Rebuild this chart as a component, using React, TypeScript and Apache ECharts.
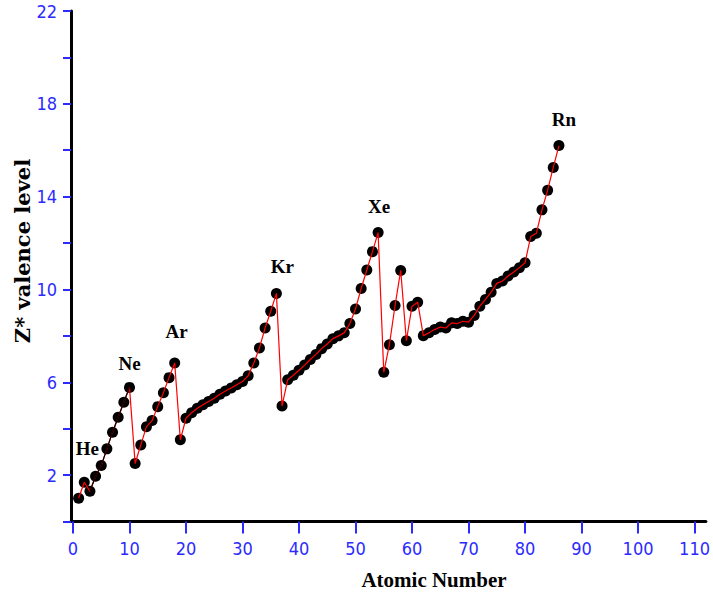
import React, { useEffect, useRef } from "react";
import * as echarts from "echarts";

const atomicNumbers = [
  1, 2, 3, 4, 5, 6, 7, 8, 9, 10,
  11, 12, 13, 14, 15, 16, 17, 18, 19, 20,
  21, 22, 23, 24, 25, 26, 27, 28, 29, 30,
  31, 32, 33, 34, 35, 36, 37, 38, 39, 40,
  41, 42, 43, 44, 45, 46, 47, 48, 49, 50,
  51, 52, 53, 54, 55, 56, 57, 58, 59, 60,
  61, 62, 63, 64, 65, 66, 67, 68, 69, 70,
  71, 72, 73, 74, 75, 76, 77, 78, 79, 80,
  81, 82, 83, 84, 85, 86,
];

const zEffective = [
  1.0, 1.69, 1.3, 1.95, 2.41, 3.13, 3.85, 4.49, 5.14, 5.78,
  2.5, 3.3, 4.08, 4.35, 4.95, 5.55, 6.2, 6.83, 3.52, 4.45,
  4.69, 4.88, 5.03, 5.17, 5.31, 5.48, 5.62, 5.75, 5.89, 6.03,
  6.28, 6.83, 7.48, 8.34, 9.06, 9.83, 4.98, 6.11, 6.3, 6.52,
  6.74, 6.98, 7.2, 7.45, 7.65, 7.88, 8.0, 8.13, 8.53, 9.16,
  10.04, 10.84, 11.63, 12.45, 6.43, 7.62, 9.31, 10.82, 7.79, 9.28,
  9.45, 8.01, 8.13, 8.27, 8.38, 8.34, 8.56, 8.53, 8.63, 8.59,
  8.88, 9.28, 9.57, 9.88, 10.26, 10.36, 10.58, 10.75, 10.94, 11.15,
  12.28, 12.42, 13.43, 14.28, 15.26, 16.2,
];

const nobleGasNames = ["He", "Ne", "Ar", "Kr", "Xe", "Rn"];
const nobleGasNumbers = [2, 10, 18, 36, 54, 86];

const xTickValues = [0, 10, 20, 30, 40, 50, 60, 70, 80, 90, 100, 110];
const yTickValues = [0, 2, 4, 6, 8, 10, 12, 14, 16, 18, 20, 22];
const yLabelValues = [2, 6, 10, 14, 18, 22];

const xTitle = "Atomic Number";
const yTitle = "Z* valence level";

// label offsets (pixels) relative to the marker centre
const labelOffsets: Record<string, [number, number]> = {
  He: [3, -34],
  Ne: [0, -24],
  Ar: [2, -32],
  Kr: [6, -27],
  Xe: [1, -26],
  Rn: [5, -26],
};

const BLUE = "#2b2bff";
const SERIF = "'Liberation Serif', 'Times New Roman', serif";
const TICK_FONT = "'Liberation Sans Narrow', 'DejaVu Sans Condensed', 'Liberation Sans', sans-serif";

export default function App() {
  const ref = useRef<HTMLDivElement>(null);

  useEffect(() => {
    if (!ref.current) return;
    const chart = echarts.init(ref.current, undefined, { renderer: "svg" });

    const points = atomicNumbers.map((z, i) => {
      const idx = nobleGasNumbers.indexOf(z);
      if (idx >= 0) {
        const name = nobleGasNames[idx];
        return {
          value: [z, zEffective[i]],
          label: {
            show: true,
            position: "inside",
            offset: labelOffsets[name],
            formatter: name,
            color: "#000",
            opacity: 1,
            textBorderWidth: 0,
            fontFamily: SERIF,
            fontWeight: "bold",
            fontSize: 19,
          },
        };
      }
      return { value: [z, zEffective[i]] };
    });

    const linePts = atomicNumbers.map((z, i) => [z, zEffective[i]]);
    const blackStart = atomicNumbers.indexOf(3);
    const blackEnd = atomicNumbers.indexOf(10);
    const blackPts = linePts.slice(blackStart, blackEnd + 1);

    chart.setOption({
      animation: false,
      backgroundColor: "#ffffff",
      grid: { left: 71, right: 3, top: 11, bottom: 70.5, containLabel: false },
      xAxis: {
        type: "value",
        min: -0.35,
        max: 112,
        axisLine: { show: true, onZero: false, lineStyle: { color: "#000", width: 3 } },
        axisTick: {
          show: true,
          length: 12,
          customValues: xTickValues,
          lineStyle: { color: BLUE, width: 2 },
        },
        axisLabel: {
          customValues: xTickValues,
          color: BLUE,
          fontFamily: TICK_FONT,
          fontSize: 18,
          margin: 18,
        },
        splitLine: { show: false },
      },
      yAxis: {
        type: "value",
        min: 0,
        max: 22,
        axisLine: { show: true, onZero: false, lineStyle: { color: "#000", width: 3 } },
        axisTick: {
          show: true,
          length: 8,
          customValues: yTickValues,
          lineStyle: { color: BLUE, width: 2 },
        },
        axisLabel: {
          customValues: yLabelValues,
          color: BLUE,
          fontFamily: TICK_FONT,
          fontSize: 18,
          margin: 14,
        },
        splitLine: { show: false },
      },
      graphic: [
        {
          type: "text",
          x: 434,
          y: 580,
          style: {
            text: xTitle,
            textAlign: "center",
            textVerticalAlign: "middle",
            fontFamily: SERIF,
            fontWeight: "bold",
            fontSize: 21,
            fill: "#000",
          },
        },
        {
          type: "text",
          x: 22,
          y: 251,
          rotation: Math.PI / 2,
          style: {
            text: yTitle,
            textAlign: "center",
            textVerticalAlign: "middle",
            fontFamily: "'DejaVu Serif', serif",
            fontWeight: "bold",
            fontSize: 21,
            fill: "#000",
          },
        },
      ],
      series: [
        {
          type: "scatter",
          data: points,
          symbol: "circle",
          symbolSize: 11,
          itemStyle: { color: "#000", opacity: 1 },
          emphasis: { disabled: true },
          z: 2,
        },
        {
          type: "line",
          data: linePts,
          showSymbol: false,
          symbol: "none",
          lineStyle: { color: "#ff0000", width: 1.2 },
          z: 3,
        },
        {
          type: "line",
          data: blackPts,
          showSymbol: false,
          symbol: "none",
          lineStyle: { color: "#000", width: 1.2 },
          z: 4,
        },
      ],
    });

    return () => chart.dispose();
  }, []);

  return (
    <div
      ref={ref}
      style={{ position: "fixed", left: 0, top: 0, width: 713, height: 592 }}
    />
  );
}
